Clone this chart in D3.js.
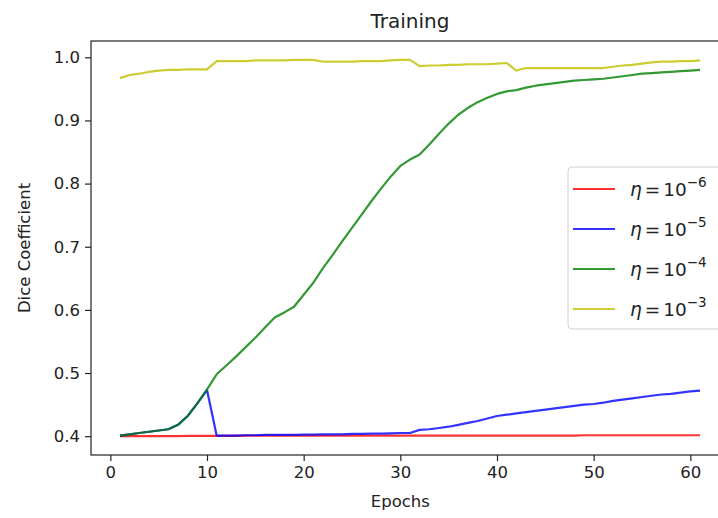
<!DOCTYPE html>
<meta charset="utf-8">
<style>
  body { margin: 0; background: #fff; }
  text { font-family: "DejaVu Sans", sans-serif; fill: #222; }
</style>

<!-- Load d3.js -->
<script src="https://d3js.org/d3.v7.min.js"></script>

<!-- Create a div where the graph will take place -->
<div id="my_dataviz"></div>

<script>

// epochs 1..61
var epochs = [1,2,3,4,5,6,7,8,9,10,11,12,13,14,15,16,17,18,19,20,
  21,22,23,24,25,26,27,28,29,30,31,32,33,34,35,36,37,38,39,40,
  41,42,43,44,45,46,47,48,49,50,51,52,53,54,55,56,57,58,59,60,61];

// Dice coefficient per learning rate
var lr1e6 = [0.400,0.400,0.400,0.400,0.400,0.400,0.400,0.4005,0.4005,0.4005,
  0.4005,0.4005,0.4005,0.401,0.401,0.401,0.401,0.401,0.401,0.401,
  0.401,0.401,0.401,0.401,0.401,0.401,0.401,0.401,0.401,0.401,
  0.401,0.401,0.401,0.401,0.401,0.401,0.401,0.401,0.401,0.401,
  0.401,0.401,0.401,0.401,0.401,0.401,0.401,0.401,0.4015,0.4015,
  0.4015,0.4015,0.4015,0.4015,0.4015,0.4015,0.4015,0.4015,0.4015,0.4015,0.4015];

var lr1e5 = [0.401,0.403,0.405,0.407,0.409,0.411,0.418,0.432,0.452,0.473,
  0.401,0.401,0.401,0.4015,0.4015,0.402,0.402,0.402,0.402,0.4025,
  0.4025,0.403,0.403,0.403,0.4035,0.4035,0.404,0.404,0.4045,0.405,
  0.405,0.410,0.411,0.413,0.415,0.418,0.421,0.424,0.428,0.432,
  0.434,0.436,0.438,0.440,0.442,0.444,0.446,0.448,0.450,0.451,
  0.453,0.456,0.458,0.460,0.462,0.464,0.466,0.467,0.469,0.471,0.472];

var lr1e4 = [0.401,0.403,0.405,0.407,0.409,0.411,0.418,0.432,0.452,0.474,
  0.498,0.512,0.526,0.541,0.556,0.572,0.588,0.596,0.605,0.624,
  0.643,0.666,0.687,0.709,0.730,0.751,0.772,0.792,0.811,0.828,
  0.838,0.846,0.862,0.879,0.895,0.909,0.920,0.929,0.936,0.942,
  0.946,0.948,0.952,0.955,0.957,0.959,0.961,0.963,0.964,0.965,
  0.966,0.968,0.970,0.972,0.974,0.975,0.976,0.977,0.978,0.979,0.980];

var lr1e3 = [0.967,0.972,0.974,0.977,0.979,0.980,0.980,0.981,0.981,0.981,
  0.994,0.994,0.994,0.994,0.995,0.995,0.995,0.995,0.996,0.996,
  0.996,0.993,0.993,0.993,0.993,0.994,0.994,0.994,0.995,0.996,
  0.996,0.986,0.987,0.987,0.988,0.988,0.989,0.989,0.989,0.990,
  0.991,0.979,0.983,0.983,0.983,0.983,0.983,0.983,0.983,0.983,
  0.983,0.985,0.987,0.988,0.990,0.992,0.993,0.993,0.994,0.994,0.995];

var seriesNames = ["-6", "-5", "-4", "-3"];
var seriesColors = ["#ff0000", "#0000ff", "#008000", "#bfbf00"];
var seriesValues = [lr1e6, lr1e5, lr1e4, lr1e3];

var xTicks = [0, 10, 20, 30, 40, 50, 60];
var yTicks = [0.4, 0.5, 0.6, 0.7, 0.8, 0.9, 1.0];

// set the dimensions and margins of the graph
var W = 718, H = 518;
var margin = {top: 41, right: -11, bottom: 63, left: 91},
  width = W - margin.left - margin.right,
  height = H - margin.top - margin.bottom;

// append the svg object to the body of the page
var svgRoot = d3.select("#my_dataviz")
  .append("svg")
    .attr("width", W)
    .attr("height", H);

var svg = svgRoot.append("g")
    .attr("transform", "translate(" + margin.left + "," + margin.top + ")");

// scales (matplotlib style 5% padding)
var x = d3.scaleLinear().domain([-2, 64]).range([0, width]);
var y = d3.scaleLinear().domain([0.3702, 1.0258]).range([height, 0]);

// axes
var xAxis = svg.append("g")
  .attr("transform", "translate(0," + height + ")")
  .call(d3.axisBottom(x).tickValues(xTicks).tickSize(6).tickPadding(5).tickFormat(d3.format("d")));

var yAxis = svg.append("g")
  .call(d3.axisLeft(y).tickValues(yTicks).tickSize(6).tickPadding(5).tickFormat(d3.format(".1f")));

[xAxis, yAxis].forEach(function(a) {
  a.select(".domain").remove();
  a.selectAll("line").attr("stroke", "#222").attr("stroke-width", 1.2);
  a.selectAll("text").attr("font-family", "DejaVu Sans").attr("font-size", "16.5px").attr("fill", "#222");
});

// frame
svg.append("rect")
  .attr("x", 0).attr("y", 0)
  .attr("width", width).attr("height", height)
  .attr("fill", "none")
  .attr("stroke", "#222")
  .attr("stroke-width", 1.2);

// lines
var line = d3.line()
  .x(function(d, i) { return x(epochs[i]); })
  .y(function(d) { return y(d); });

svg.selectAll(".series")
  .data(seriesValues)
  .enter()
  .append("path")
    .attr("class", "series")
    .attr("d", line)
    .attr("fill", "none")
    .attr("stroke", function(d, i) { return seriesColors[i]; })
    .attr("stroke-opacity", 0.8)
    .attr("stroke-width", 2.2)
    .attr("stroke-linejoin", "round");

// title and axis labels
svg.append("text")
  .attr("x", width / 2).attr("y", -13)
  .attr("text-anchor", "middle")
  .attr("font-size", "20px")
  .text("Training");

svg.append("text")
  .attr("x", x(30)).attr("y", height + 52)
  .attr("text-anchor", "middle")
  .attr("font-size", "16.5px")
  .text("Epochs");

svg.append("text")
  .attr("transform", "translate(" + (-61) + "," + (height / 2) + ") rotate(-90)")
  .attr("text-anchor", "middle")
  .attr("font-size", "16.5px")
  .text("Dice Coefficient");

// legend, center right
var legend = svg.append("g")
  .attr("transform", "translate(" + (width - 161) + "," + (height / 2 - 81) + ")");

legend.append("rect")
  .attr("width", 170).attr("height", 162)
  .attr("rx", 4)
  .attr("fill", "#fff").attr("fill-opacity", 0.8)
  .attr("stroke", "#d0d0d0");

var rows = legend.selectAll(".row")
  .data(seriesNames)
  .enter()
  .append("g")
    .attr("transform", function(d, i) { return "translate(0," + (22 + i * 40) + ")"; });

rows.append("line")
  .attr("x1", 5).attr("x2", 47)
  .attr("stroke", function(d, i) { return seriesColors[i]; })
  .attr("stroke-opacity", 0.8)
  .attr("stroke-width", 2.2);

var lab = rows.append("text")
  .attr("x", 62).attr("y", 7)
  .attr("font-size", "18.5px");
lab.append("tspan").attr("font-style", "italic").text("\u03b7");
lab.append("tspan").attr("dx", 3).text("=");
lab.append("tspan").attr("dx", 3).text("10");
lab.append("tspan")
  .attr("dy", -9).attr("font-size", "13.5px")
  .text(function(d) { return d.replace("-", "\u2212"); });

</script>
